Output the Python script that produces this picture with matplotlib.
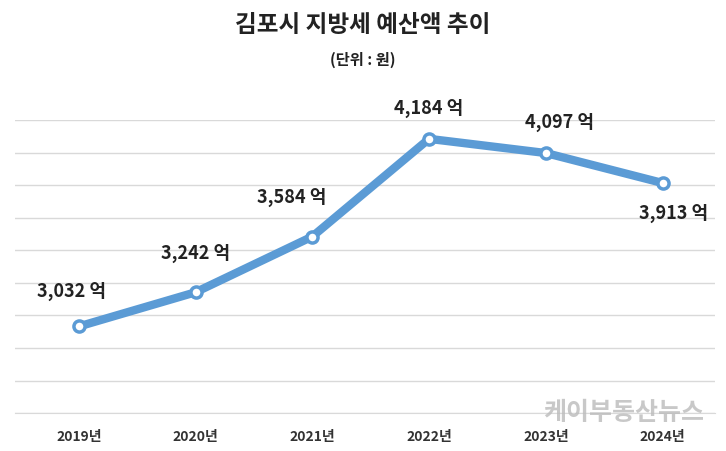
import matplotlib.pyplot as plt
from matplotlib import font_manager

names = {f.name for f in font_manager.fontManager.ttflist}
cjk = [n for n in ("Noto Sans CJK KR", "Noto Sans CJK JP", "Noto Sans CJK SC",
                   "Noto Sans CJK TC", "Noto Sans KR", "Noto Sans CJK") if n in names]
cjk += sorted(n for n in names if "CJK" in n or "Nanum" in n)
plt.rcParams["font.family"] = cjk + ["DejaVu Sans"]

YEARS = ["2019년", "2020년", "2021년", "2022년", "2023년", "2024년"]
BUDGET = [3032, 3242, 3584, 4184, 4097, 3913]
LABELS = ["3,032 억", "3,242 억", "3,584 억", "4,184 억", "4,097 억", "3,913 억"]
# label offsets in points (dx, dy)
OFFSETS = [(-5, 25), (0, 28), (-15, 28), (0, 22), (10, 22), (8, -22)]

BLUE = "#5b9bd5"

fig = plt.figure(figsize=(7.26, 4.51), dpi=100)
ax = fig.add_axes([0.02, 0.084, 0.965, 0.65])

x = list(range(len(YEARS)))
ax.plot(x, BUDGET, color=BLUE, linewidth=6, marker="o", markersize=8,
        markerfacecolor="white", markeredgecolor=BLUE, markeredgewidth=2.5,
        solid_capstyle="round", zorder=3)

for xi, val, lab, off in zip(x, BUDGET, LABELS, OFFSETS):
    ax.annotate(lab, (xi, val), xytext=off, textcoords="offset points",
                ha="center", va="center", fontsize=13, fontweight="bold",
                color="#222222")

ax.set_ylim(2500, 4300)
ax.set_xlim(-0.55, 5.45)
ax.set_yticks(range(2500, 4301, 200))
ax.set_yticklabels([])
ax.tick_params(axis="y", length=0)
ax.grid(axis="y", color="#d9d9d9", linewidth=1)
ax.set_xticks(x)
ax.set_xticklabels(YEARS, fontsize=10, fontweight="bold", color="#333333")
ax.tick_params(axis="x", length=0, pad=12)
for side in ("top", "right", "left"):
    ax.spines[side].set_visible(False)
ax.spines["bottom"].set_color("#d9d9d9")

fig.text(0.5, 0.945, "김포시 지방세 예산액 추이", ha="center", va="center",
         fontsize=17, fontweight="bold", color="#222222")
fig.text(0.5, 0.867, "(단위 : 원)", ha="center", va="center",
         fontsize=11, fontweight="bold", color="#222222")
fig.text(0.97, 0.085, "케이부동산뉴스", ha="right", va="center",
         fontsize=18, fontweight="bold", color="#bbbbbb", alpha=0.8)

fig.savefig("out.png", dpi=100)
